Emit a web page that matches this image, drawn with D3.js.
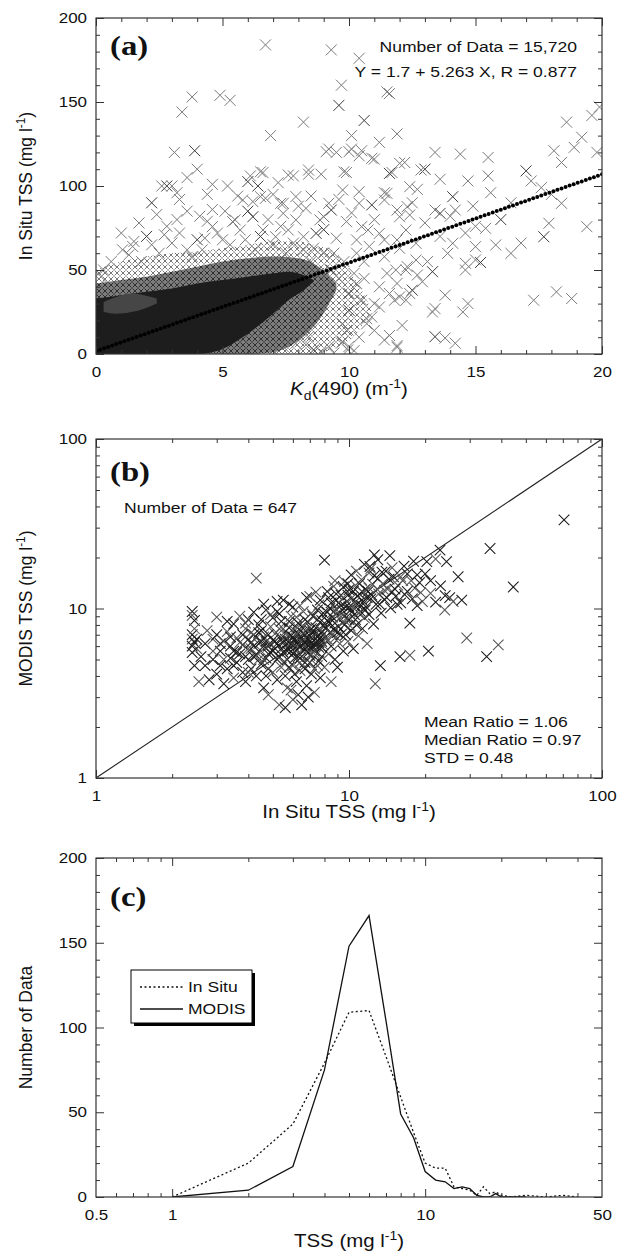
<!DOCTYPE html>
<html>
<head>
<meta charset="utf-8">
<script src="https://cdn.jsdelivr.net/npm/d3@7"></script>
<style>
  body { margin: 0; background: #fff; }
  text { font-family: "Liberation Sans", Arial, Helvetica, sans-serif; fill: #111; }
</style>
</head>
<body>
<div id="chart"></div>
<script>
// ---------------- data ----------------
// (a) Kd(490) vs in situ TSS : scattered points
var kdOutliers = [
  [6.7,184],[9.3,181],[10.4,176],[9.7,160],[9.6,148],[11.5,156],[11.6,155],[3.8,153],[3.4,144],[4.9,154],
  [5.3,151],[6.9,130],[8.2,138],[10.6,139],[10.1,130],[11.9,131],[11.2,126],[10.1,122],[10.5,121],[9.2,122],
  [9.5,120],[3.1,120],[3.9,121],[11.0,116],[12.2,114],[13.4,120],[14.4,119],[15.5,117],[15.5,106],[14.7,103],
  [13.6,104],[13.0,110],[11.7,108],[9.9,108],[8.9,107],[8.4,107],[7.8,106],[7.2,102],[6.6,108],[6.1,106],
  [6.4,100],[18.1,121],[18.6,138],[18.9,123],[18.4,114],[19.2,129],[19.6,142],[19.9,147],[19.8,120],[17.0,109],
  [17.2,103],[17.6,99],[18.0,95],[12.7,98],[11.4,96],[2.6,100],[3.0,100],[3.2,96],[2.8,100],[3.3,92],
  [2.4,83],[2.8,76],[3.2,80],[2.7,71],[4.1,82],[4.6,86],[4.4,79],[4.0,68],[4.3,69],[3.6,62],
  [3.8,58],[1.05,62],[1.45,64],[1.3,59],[1.8,55],[6.5,108.5],[6.0,102.6],[7.6,106.5],[8.4,109.5],[9.8,108.5],
  [9.1,120.4],[10.0,120.4],[10.4,118],[10.9,116.5],[12.0,113.5],[11.6,107.5],[12.4,99.6],[12.85,109.5],[5.8,91.7],[6.2,90.7],
  [6.7,92.7],[7.4,89.7],[7.9,93.7],[5.5,79.8],[6.2,81.7],[5.7,73.8],[7.4,83.7],[8.3,86.7],[7.9,79.8],[9.2,89.7],
  [9.0,81.7],[9.75,97.6],[10.4,96.6],[10.9,88.7],[11.5,95.6],[11.9,85.7],[12.4,82.7],[12.25,73.8],[9.9,78.8],[10.5,75.8],
  [11.2,71.8],[11.9,67.9],[8.7,71.8],[9.5,68.9],[10.3,67.9],[6.6,73.8],[7.1,69.8],[7.6,73.8],[8.2,69.8],[12.65,55.9],
  [12.25,50],[12.5,38],[12.25,32],[11.5,48],[11.9,42],[11.6,36],[11.2,28],[10.9,22],[10.3,42],[10.5,32],
  [10.0,26],[9.75,18],[10.7,21],[11.6,11],[11.9,4],[9.75,7.4],[9.95,2.4],[9.2,4.4],[8.4,10.3],[8.6,2.4],
  [7.9,6.3],[7.0,2.4],[7.4,4.4],[4.6,75.8],[5.4,78.8],[6.5,93.7],[7.3,89.7],[8.85,79.8],[9.3,85.7],[10.4,89.7],
  [11.4,91.7],[12.0,81.7],[12.3,87.7],[10.75,73.8],[11.4,67.9],[12.0,62.9],[12.65,65.9],[13.6,83.7],[14.2,85.7],[11.4,57.9],
  [11.85,50],[12.3,52],[14.1,65.9],[13.9,59.9],[19.4,75.8],[17.9,77.8],[17.7,69.8],[18.4,89.7],[16.4,59.9],[15.8,64.9],
  [15.4,74.8],[15.0,63.9],[15.0,56],[14.6,54],[14.6,50],[15.2,54.5],[17.3,32],[18.2,37],[18.8,33],[14.7,30],
  [14.5,25],[13.4,27],[13.3,25],[13.8,35],[13.4,10.3],[13.8,9.5],[14.2,6.4],[11.4,8.3],[11.9,5],[8.3,5.5],
  [9.7,6.5],[10.0,4.5],[13.1,55],[13.3,49],[12.7,47],[12.9,43],[12.4,36],[12.0,34],[11.8,32],[11.0,30],
  [10.7,18],[12.1,17],[14.1,93.6],[13.4,85.7],[13.0,78],[14.9,88],[15.0,76],[14.0,82],[12.5,90],[8.5,55],
  [9.0,60],[9.3,50],[8.8,48],[9.6,45],[8.2,62],[7.5,60],[9.8,55],[10.2,48],[10.6,55],[7.0,65],
  [6.5,70],[5.0,68],[3.0,66],[2.2,65],[1.5,67],[0.6,55],[0.3,50],[0.2,46],[0.1,40],[2.0,70],
  [2.5,60],[3.3,72],[3.6,85],[4.2,62],[4.8,72],[5.1,85],[5.3,65],[5.9,68],[6.0,85],[6.3,62],
  [6.8,80],[7.0,95],[7.3,76],[7.8,66],[8.0,88],[8.5,94],[8.6,63],[9.0,74],[9.4,60],[9.6,92],
  [10.1,84],[10.3,60],[10.8,64],[11.0,80],[11.2,40],[10.6,45],[10.0,36],[9.9,14],[10.4,10],[11.0,14],
  [10.2,2],[9.4,0.5],[8.9,1],[1.0,72],[1.7,78],[2.2,90],[4.4,95],[5.2,100],[5.6,94],[3.6,105],
  [4.0,110],[4.6,101],[13.6,70],[14.6,72],[16.0,80],[16.8,66],[16.4,90],[15.6,96]
];
// dense part of the cloud, drawn as envelopes (Kd, lower TSS, upper TSS)
var fringeKd   = [0, 1, 2, 3, 4, 5, 6, 7, 8, 8.6, 9.5, 10.0, 10.5, 10.9];
var fringeLow  = [0, 0, 0, 0, 0, 0, 0, 0, 0, 0, 4, 8, 16, 26];
var fringeHigh = [50, 55, 58, 60, 61, 63, 65, 67, 67, 65, 60, 50, 38, 26];
var innerKd    = [0, 1, 2, 3, 4, 5, 6, 7, 8, 8.8, 9.5];
var innerLow   = [0, 0, 0, 0, 0, 0, 0, 1, 8, 20, 38];
var innerHigh  = [42, 44, 46, 49, 52, 55, 57, 58, 57, 52, 42];
var coreKd     = [0, 1, 2, 3, 4, 5, 6, 7, 7.6, 8.2, 8.6];
var coreLow    = [0, 0, 0, 0, 0, 3, 12, 24, 32, 38, 43];
var coreHigh   = [33, 35, 37, 39, 42, 44, 46, 48, 49, 47, 44];
var blobKd     = [0.3, 0.8, 1.4, 1.9, 2.4];
var blobLow    = [25, 24, 25, 27, 30];
var blobHigh   = [31, 34, 36, 35, 33];
var fitIntercept = 1.7, fitSlope = 5.263;
var kdTicks = [0, 5, 10, 15, 20];
var tssTicksA = [0, 50, 100, 150, 200];

// (b) in situ TSS vs MODIS TSS match-ups
var matchups = [
  [2.4,9.6],[2.4,9.1],[2.45,8.5],[2.4,7.0],[2.4,6.6],[2.45,6.3],[2.4,6.0],[2.5,5.8],[2.4,5.5],[2.45,4.6],
  [2.55,3.7],[2.7,4.6],[2.7,6.2],[2.75,7.4],[2.8,3.8],[2.9,5.0],[2.9,6.6],[3.0,4.1],[3.0,7.0],[3.0,8.9],
  [3.1,5.6],[3.1,6.2],[3.2,6.4],[3.2,3.6],[3.3,4.4],[3.3,7.3],[3.4,5.1],[3.4,6.0],[3.5,3.9],[3.5,8.1],
  [3.6,4.8],[3.6,6.7],[3.6,5.5],[3.7,5.4],[3.7,9.0],[3.8,4.2],[3.8,6.1],[3.9,7.6],[3.9,3.7],[4.0,5.0],
  [4.0,6.6],[4.0,8.6],[4.1,4.4],[4.1,5.8],[4.2,9.5],[4.2,7.0],[4.3,15.1],[4.3,5.3],[4.3,4.0],[4.4,6.2],
  [4.4,8.0],[4.5,4.7],[4.5,5.6],[4.5,7.4],[4.6,3.4],[4.6,6.8],[4.7,5.1],[4.7,9.8],[4.8,3.1],[4.8,6.0],
  [4.8,4.4],[4.9,7.8],[4.9,5.5],[5.0,6.5],[5.0,4.2],[5.0,8.8],[4.2,6.0],[4.4,5.0],[4.6,6.0],[4.8,5.4],
  [4.1,7.2],[4.6,10.6],[5.1,5.8],[5.1,7.1],[5.2,3.8],[5.2,6.2],[5.3,2.7],[5.3,5.2],[5.3,9.3],[5.4,4.5],
  [5.4,6.7],[5.5,5.5],[5.5,7.6],[5.5,11.2],[5.6,2.6],[5.6,6.0],[5.6,4.0],[5.7,5.0],[5.7,7.0],[5.8,6.4],
  [5.8,8.4],[5.9,3.3],[5.9,5.6],[6.0,6.8],[6.0,4.6],[6.0,10.2],[6.1,5.9],[6.1,7.4],[6.2,3.7],[6.2,6.3],
  [6.2,8.9],[6.3,5.2],[6.3,7.1],[6.4,4.3],[6.4,6.6],[6.5,2.7],[6.5,5.7],[6.5,7.8],[6.6,6.2],[6.6,9.6],
  [6.7,4.8],[6.7,7.0],[6.8,5.9],[6.8,3.5],[6.9,6.5],[6.9,8.3],[7.0,5.3],[7.0,7.4],[7.0,11.8],[7.1,4.1],
  [7.1,6.0],[7.2,6.9],[7.2,9.0],[7.3,5.6],[7.3,3.2],[7.4,7.7],[7.4,6.3],[7.5,4.6],[7.5,8.6],[7.6,5.9],
  [7.6,10.5],[7.7,6.7],[7.7,3.9],[7.8,7.3],[7.8,5.2],[7.9,9.4],[7.9,6.1],[8.0,19.3],[8.0,7.9],[8.0,4.5],
  [5.2,11.0],[6.8,11.6],[7.4,12.5],[5.8,6.0],[6.0,6.2],[6.2,5.6],[6.4,6.0],[6.6,6.5],[6.8,6.8],[7.0,6.4],
  [7.2,6.0],[6.3,6.9],[6.9,5.5],[7.1,7.6],[6.5,5.2],[5.9,6.9],[6.1,5.1],[7.3,6.5],[6.7,5.8],[5.6,6.6],
  [6.4,7.4],[7.6,7.0],[7.8,6.4],[8.1,6.6],[8.2,12.6],[8.2,8.5],[8.3,5.4],[8.4,7.2],[8.4,10.0],[8.5,3.7],
  [8.5,6.0],[8.6,8.9],[8.7,13.5],[8.7,7.5],[8.8,5.0],[8.9,6.8],[8.9,11.2],[8.9,12.2],[9.0,9.4],[9.0,4.5],
  [9.1,7.8],[9.2,6.2],[9.3,10.4],[9.3,12.0],[9.4,8.3],[9.5,5.6],[9.6,9.0],[9.6,14.4],[9.7,7.0],[9.8,11.0],
  [9.9,6.4],[10.0,8.6],[10.0,12.9],[10.1,9.8],[10.2,15.8],[10.2,7.4],[10.3,11.6],[10.4,5.8],[10.5,9.2],[10.6,13.7],
  [10.7,8.0],[10.8,10.6],[10.9,6.9],[11.0,12.2],[11.1,9.6],[11.2,14.8],[11.3,7.6],[11.4,11.0],[11.5,8.8],[11.6,13.0],
  [11.7,10.2],[11.8,6.2],[11.9,12.6],[12.0,9.2],[12.0,16.2],[12.1,17.7],[12.2,11.4],[12.4,13.9],[12.5,8.1],[12.6,20.7],
  [12.7,3.6],[12.8,10.6],[13.0,15.0],[13.1,12.2],[13.3,4.6],[13.4,9.4],[13.6,14.0],[13.8,11.3],[14.0,16.6],[14.2,13.0],
  [14.5,20.5],[14.6,10.1],[14.8,12.6],[15.0,15.4],[15.3,11.8],[15.6,13.7],[15.9,5.2],[16.0,10.8],[16.3,14.6],[16.6,12.1],
  [17.0,16.0],[17.4,5.3],[17.4,8.2],[17.8,11.4],[18.2,13.2],[18.6,10.4],[19.0,14.2],[19.5,11.0],[20.3,18.9],[20.6,5.6],
  [21.0,12.3],[22.0,10.9],[22.9,22.1],[23.9,9.8],[24.3,18.9],[25.0,11.6],[25.8,11.0],[27.0,15.4],[27.9,11.2],[29.2,6.7],
  [35.0,5.2],[36.1,22.6],[38.9,6.1],[44.6,13.4],[70.8,33.3],
  [3.2,5.0],[3.4,6.8],[3.5,5.6],[3.7,6.3],[3.8,7.0],[3.9,5.2],[4.0,5.8],[4.1,6.3],[4.2,5.2],[4.3,6.7],
  [4.4,7.2],[4.5,6.4],[4.6,5.0],[4.7,6.4],[4.8,7.0],[4.9,6.2],[5.0,5.6],[3.3,8.4],[3.9,8.2],[4.5,8.6],
  [3.5,4.6],[4.0,4.2],[4.7,4.0],[3.1,4.6],[2.9,5.6],[2.6,5.2],[2.5,6.6],[2.45,7.6],[5.1,6.4],[5.2,5.0],
  [5.3,7.6],[5.4,5.8],[5.5,6.3],[5.6,7.3],[5.7,5.6],[5.8,7.7],[5.9,6.3],[6.0,5.4],[6.1,6.6],[6.2,7.8],
  [6.3,6.1],[6.4,5.1],[6.5,6.4],[6.6,7.1],[6.7,6.3],[6.8,7.5],[6.9,6.0],[7.0,6.9],[7.1,5.4],[7.2,7.3],
  [7.3,6.1],[7.4,5.3],[7.5,6.8],[7.6,6.3],[7.7,7.5],[7.8,5.9],[7.9,7.0],[5.5,4.8],[5.8,4.5],[6.1,4.1],
  [6.4,4.8],[6.7,4.4],[7.0,4.8],[7.3,4.4],[7.6,4.9],[5.4,8.4],[5.9,9.0],[6.3,8.2],[6.7,8.6],[7.1,9.4],
  [7.5,9.8],[7.8,8.5],[5.7,3.4],[6.3,3.1],[6.9,3.0],[6.0,2.9],[8.1,7.6],[8.2,9.5],[8.3,6.5],[8.4,8.2],
  [8.5,10.8],[8.6,7.0],[8.7,9.6],[8.8,8.2],[8.9,9.9],[9.0,7.2],[9.1,10.8],[9.2,8.8],[9.3,7.0],[9.4,9.8],
  [9.5,11.6],[9.6,8.0],[9.7,10.2],[9.8,8.6],[9.9,12.0],[10.0,10.2],[10.1,7.9],[10.3,9.6],[10.4,12.6],[10.5,10.8],
  [10.6,8.6],[10.8,11.8],[10.9,9.4],[11.0,14.0],[11.2,10.4],[11.4,12.4],[11.6,9.8],[11.8,11.6],[12.0,13.2],[12.3,12.0],
  [12.6,15.6],[12.9,13.0],[13.2,10.6],[13.5,16.4],[13.8,12.8],[14.1,11.6],[14.4,14.9],[14.8,17.4],[15.2,13.0],[15.5,10.6],
  [16.0,15.4],[16.5,17.8],[17.0,12.6],[17.6,14.6],[18.0,19.0],[18.6,15.8],[19.2,12.4],[20.0,16.0],[21.0,14.6],[22.0,19.6],
  [23.0,13.6],[24.0,11.9],[12.2,17.2],[13.0,19.4],[11.5,18.2],[10.7,16.6],[9.9,14.0],[9.5,13.4],[8.8,14.6],[8.3,11.6],
  [7.7,11.2],[6.4,10.4],[5.8,10.6],[5.2,9.6],[4.9,9.2]
];
var oneToOne = [1, 100];
var logMajor = [1, 10, 100];
var logMinor = [2, 3, 4, 5, 6, 7, 8, 9, 20, 30, 40, 50, 60, 70, 80, 90];

// (c) frequency distribution of TSS
var inSituTss    = [1, 2, 3, 4, 5, 6, 7, 8, 9, 10, 11, 12, 13, 14, 15, 16, 17, 18, 19, 20, 22, 25, 30, 35, 40];
var inSituCount  = [0, 20, 43, 79, 109, 110, 83, 59, 38, 20, 17, 17, 6, 5, 4, 1, 6, 2, 3, 1, 0, 1, 0, 1, 0];
var modisTss     = [1, 2, 3, 4, 5, 6, 7, 8, 9, 10, 11, 12, 13, 14, 15, 16, 17, 18, 19, 20, 22, 25];
var modisCount   = [0, 4, 18, 75, 148, 166, 104, 49, 35, 15, 10, 9, 5, 6, 5, 1, 0, 0, 2, 0, 0, 0];
var tssLabelsC   = [0.5, 1, 10, 50];
var tssMinorC    = [0.6, 0.7, 0.8, 0.9, 2, 3, 4, 5, 6, 7, 8, 9, 20, 30, 40];
var countTicks   = [0, 50, 100, 150, 200];

// ---------------- layout ----------------
var W = 624, H = 1256;
var SX = 1.17; // the lettering of the original figure is stretched sideways
var left = 96, right = 602;
var panelA = {top: 18, bottom: 354};
var panelB = {top: 439, bottom: 778};
var panelC = {top: 858, bottom: 1197};

var svg = d3.select("#chart").append("svg")
    .attr("width", W)
    .attr("height", H);
svg.append("rect").attr("width", W).attr("height", H).attr("fill", "#fff");
var defs = svg.append("defs");

// cross textures used for the dense fringe of panel (a)
function crossPattern(id, bg, stroke) {
  var p = defs.append("pattern")
      .attr("id", id)
      .attr("patternUnits", "userSpaceOnUse")
      .attr("width", 6).attr("height", 6);
  if (bg) p.append("rect").attr("width", 6).attr("height", 6).attr("fill", bg);
  p.append("path")
      .attr("d", "M0.5,0.5L5.5,5.5M5.5,0.5L0.5,5.5")
      .attr("stroke", stroke).attr("stroke-width", 1).attr("fill", "none");
}
crossPattern("fringe", null, "#777");
crossPattern("inner", "#7c7c7c", "#2e2e2e");

function crossPath(s) {
  return "M" + (-s) + "," + (-s) + "L" + s + "," + s + "M" + (-s) + "," + s + "L" + s + "," + (-s);
}

// text stretched like the original lettering
function addText(parent, x, y, anchor, size, parts, rotate) {
  var tr = "translate(" + x + "," + y + ")" + (rotate ? " rotate(-90)" : " scale(" + SX + ",1)");
  var t = parent.append("text")
      .attr("transform", tr)
      .attr("text-anchor", anchor)
      .attr("font-size", size);
  var shift = 0;
  parts.forEach(function(p) {
    var target = p.sup ? -7 : (p.sub ? 5 : 0);
    var s = t.append("tspan").text(p.t).attr("dy", target - shift);
    if (p.sup || p.sub) s.attr("font-size", size * 0.68);
    if (p.italic) s.attr("font-style", "italic");
    if (p.font) s.attr("font-family", p.font).attr("font-weight", "bold");
    shift = target;
  });
  return t;
}

function drawFrame(g, w, h, x, y, o) {
  function row(axisFn, scale, values, len, tr) {
    var a = g.append("g");
    if (tr) a.attr("transform", tr);
    a.call(axisFn(scale).tickValues(values).tickSize(-len).tickSizeOuter(0).tickFormat(""));
    a.select(".domain").remove();
    a.selectAll("line").attr("stroke", "#333").attr("stroke-width", 1);
  }
  row(d3.axisBottom, x, o.xMajor, 8, "translate(0," + h + ")");
  row(d3.axisBottom, x, o.xMinor, 4, "translate(0," + h + ")");
  row(d3.axisTop, x, o.xMajor, 8);
  row(d3.axisTop, x, o.xMinor, 4);
  row(d3.axisLeft, y, o.yMajor, 8);
  row(d3.axisLeft, y, o.yMinor, 4);
  row(d3.axisRight, y, o.yMajor, 8, "translate(" + w + ",0)");
  row(d3.axisRight, y, o.yMinor, 4, "translate(" + w + ",0)");

  g.append("rect")
      .attr("width", w).attr("height", h)
      .attr("fill", "none").attr("stroke", "#333").attr("stroke-width", 1.2);

  var bx = g.append("g")
      .attr("transform", "translate(0," + h + ")")
      .call(d3.axisBottom(x).tickValues(o.xLabels).tickSize(0).tickPadding(13).tickFormat(o.xFmt));
  var ly = g.append("g")
      .call(d3.axisLeft(y).tickValues(o.yLabels).tickSize(0).tickPadding(9).tickFormat(o.yFmt));
  [bx, ly].forEach(function(a) {
    a.select(".domain").remove();
    a.attr("font-family", null).attr("font-size", null);
    a.selectAll("text")
        .attr("font-size", 14.5)
        .attr("fill", "#111")
        .attr("x", function() { return (+d3.select(this).attr("x") || 0) / SX; })
        .attr("transform", "scale(" + SX + ",1)");
  });
}

function clip(id, w, h) {
  defs.append("clipPath").attr("id", id)
    .append("rect").attr("width", w).attr("height", h);
  return "url(#" + id + ")";
}

var pw = right - left;

// ---------------- panel (a) ----------------
var hA = panelA.bottom - panelA.top;
var gA = svg.append("g").attr("transform", "translate(" + left + "," + panelA.top + ")");
var xA = d3.scaleLinear().domain([0, 20]).range([0, pw]);
var yA = d3.scaleLinear().domain([0, 200]).range([hA, 0]);
var plotA = gA.append("g").attr("clip-path", clip("clipA", pw, hA));

function envelope(xs, lo, hi) {
  return d3.area()
      .x(function(i) { return xA(xs[i]); })
      .y0(function(i) { return yA(lo[i]); })
      .y1(function(i) { return yA(hi[i]); })
      .curve(d3.curveMonotoneX)(d3.range(xs.length));
}

plotA.append("path")
    .attr("d", envelope(fringeKd, fringeLow, fringeHigh))
    .attr("fill", "url(#fringe)");

plotA.selectAll("path.out")
    .data(kdOutliers)
    .enter().append("path")
    .attr("class", "out")
    .attr("transform", function(d) { return "translate(" + xA(d[0]) + "," + yA(d[1]) + ")"; })
    .attr("d", crossPath(5.5))
    .attr("stroke", function(d, i) { return i % 9 === 4 ? "#3c3c3c" : "#7a7a7a"; })
    .attr("stroke-width", 1)
    .attr("fill", "none");

plotA.append("path")
    .attr("d", envelope(innerKd, innerLow, innerHigh))
    .attr("fill", "url(#inner)");
plotA.append("path")
    .attr("d", envelope(coreKd, coreLow, coreHigh))
    .attr("fill", "#1d1d1d");
plotA.append("path")
    .attr("d", envelope(blobKd, blobLow, blobHigh))
    .attr("fill", "#464646");

// regression line drawn as a chain of dots
var fitKd = d3.range(0, 20.001, 0.16);
plotA.selectAll("circle.fit")
    .data(fitKd)
    .enter().append("circle")
    .attr("class", "fit")
    .attr("cx", function(d) { return xA(d); })
    .attr("cy", function(d) { return yA(fitIntercept + fitSlope * d); })
    .attr("r", 2)
    .attr("fill", "#000");

drawFrame(gA, pw, hA, xA, yA, {
  xMajor: kdTicks, xMinor: d3.range(0, 21).filter(function(v) { return v % 5; }),
  yMajor: tssTicksA, yMinor: d3.range(0, 201, 10).filter(function(v) { return v % 50; }),
  xLabels: kdTicks, yLabels: tssTicksA, xFmt: d3.format("d"), yFmt: d3.format("d")
});

addText(svg, 110, 55, "start", 28, [{t: "(a)", font: "Liberation Serif, Times New Roman, serif"}]);
addText(svg, 577, 52, "end", 15, [{t: "Number of Data = 15,720"}]);
addText(svg, 577, 77, "end", 15, [{t: "Y = 1.7 + 5.263 X, R = 0.877"}]);
addText(svg, 349, 395, "middle", 17.5, [{t: "K", italic: true}, {t: "d", sub: true}, {t: "(490) (m"}, {t: "-1", sup: true}, {t: ")"}]);
addText(svg, 32, (panelA.top + panelA.bottom) / 2, "middle", 17.5,
  [{t: "In Situ TSS (mg l"}, {t: "-1", sup: true}, {t: ")"}], true);

// ---------------- panel (b) ----------------
var hB = panelB.bottom - panelB.top;
var gB = svg.append("g").attr("transform", "translate(" + left + "," + panelB.top + ")");
var xB = d3.scaleLog().domain([1, 100]).range([0, pw]);
var yB = d3.scaleLog().domain([1, 100]).range([hB, 0]);
var plotB = gB.append("g").attr("clip-path", clip("clipB", pw, hB));

plotB.append("line")
    .attr("x1", xB(oneToOne[0])).attr("y1", yB(oneToOne[0]))
    .attr("x2", xB(oneToOne[1])).attr("y2", yB(oneToOne[1]))
    .attr("stroke", "#222").attr("stroke-width", 1.1);

plotB.selectAll("path.pt")
    .data(matchups)
    .enter().append("path")
    .attr("class", "pt")
    .attr("transform", function(d) { return "translate(" + xB(d[0]) + "," + yB(d[1]) + ")"; })
    .attr("d", crossPath(5.3))
    .attr("stroke", function(d, i) { return i % 3 === 1 ? "#555" : "#1a1a1a"; })
    .attr("stroke-width", 1.05)
    .attr("fill", "none");

drawFrame(gB, pw, hB, xB, yB, {
  xMajor: logMajor, xMinor: logMinor, yMajor: logMajor, yMinor: logMinor,
  xLabels: logMajor, yLabels: logMajor, xFmt: d3.format("d"), yFmt: d3.format("d")
});

addText(svg, 110, 481, "start", 28, [{t: "(b)", font: "Liberation Serif, Times New Roman, serif"}]);
addText(svg, 124, 513, "start", 15, [{t: "Number of Data = 647"}]);
addText(svg, 424, 727, "start", 15, [{t: "Mean Ratio = 1.06"}]);
addText(svg, 424, 745, "start", 15, [{t: "Median Ratio = 0.97"}]);
addText(svg, 424, 763, "start", 15, [{t: "STD = 0.48"}]);
addText(svg, 349, 818, "middle", 17.5, [{t: "In Situ TSS (mg l"}, {t: "-1", sup: true}, {t: ")"}]);
addText(svg, 32, (panelB.top + panelB.bottom) / 2, "middle", 17.5,
  [{t: "MODIS TSS (mg l"}, {t: "-1", sup: true}, {t: ")"}], true);

// ---------------- panel (c) ----------------
var hC = panelC.bottom - panelC.top;
var gC = svg.append("g").attr("transform", "translate(" + left + "," + panelC.top + ")");
var xC = d3.scaleLog().domain([0.5, 50]).range([0, pw]);
var yC = d3.scaleLinear().domain([0, 200]).range([hC, 0]);
var plotC = gC.append("g").attr("clip-path", clip("clipC", pw, hC));

var lineC = function(xs, ys) {
  return d3.line()
      .x(function(i) { return xC(xs[i]); })
      .y(function(i) { return yC(ys[i]); })(d3.range(xs.length));
};
plotC.append("path")
    .attr("d", lineC(inSituTss, inSituCount))
    .attr("fill", "none").attr("stroke", "#111").attr("stroke-width", 1.3)
    .attr("stroke-dasharray", "2,2.5");
plotC.append("path")
    .attr("d", lineC(modisTss, modisCount))
    .attr("fill", "none").attr("stroke", "#111").attr("stroke-width", 1.3);

drawFrame(gC, pw, hC, xC, yC, {
  xMajor: [1, 10], xMinor: tssMinorC,
  yMajor: countTicks, yMinor: d3.range(0, 201, 10).filter(function(v) { return v % 50; }),
  xLabels: tssLabelsC, yLabels: countTicks, xFmt: function(d) { return String(d); }, yFmt: d3.format("d")
});

// legend with drop shadow
var leg = svg.append("g").attr("transform", "translate(131,970)");
leg.append("rect").attr("x", 3).attr("y", 3).attr("width", 121).attr("height", 53).attr("fill", "#000");
leg.append("rect").attr("width", 121).attr("height", 53).attr("fill", "#fff").attr("stroke", "#000").attr("stroke-width", 1);
[["In Situ", "2,2.5", 17], ["MODIS", null, 39]].forEach(function(e) {
  var l = leg.append("line").attr("x1", 9).attr("x2", 52).attr("y1", e[2]).attr("y2", e[2])
      .attr("stroke", "#111").attr("stroke-width", 1.3);
  if (e[1]) l.attr("stroke-dasharray", e[1]);
  addText(leg, 57, e[2] + 5, "start", 15, [{t: e[0]}]);
});

addText(svg, 110, 906, "start", 28, [{t: "(c)", font: "Liberation Serif, Times New Roman, serif"}]);
addText(svg, 349, 1247, "middle", 17.5, [{t: "TSS (mg l"}, {t: "-1", sup: true}, {t: ")"}]);
addText(svg, 32, (panelC.top + panelC.bottom) / 2, "middle", 17.5, [{t: "Number of Data"}], true);
</script>
</body>
</html>
